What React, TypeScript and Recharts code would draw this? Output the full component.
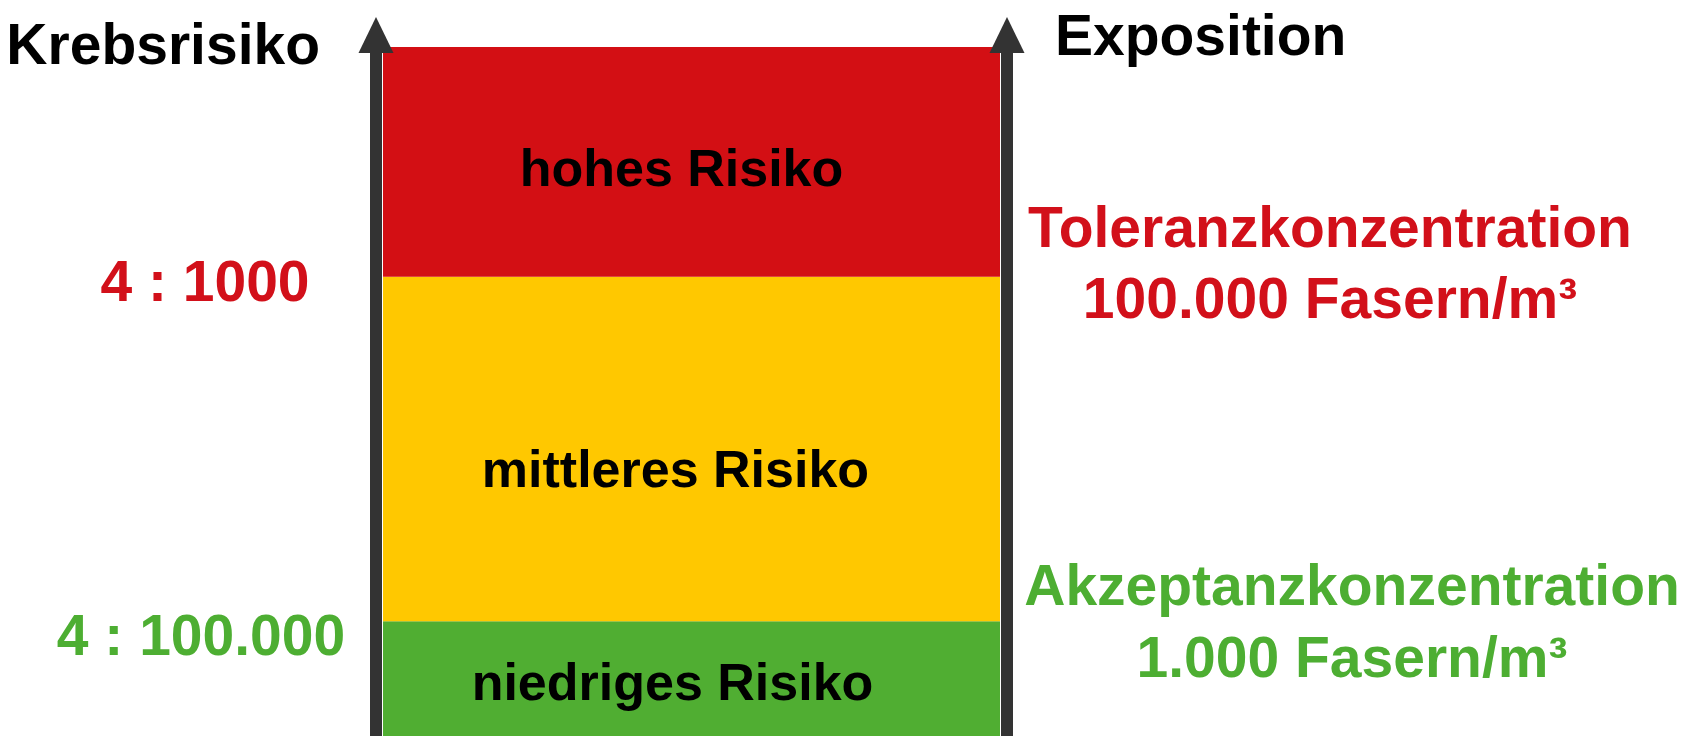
import { Bar, BarChart, LabelList, ReferenceLine, XAxis, YAxis } from "recharts";

// bands from the bottom up: low, medium, high risk
const bandKeys = ["niedrig", "mittel", "hoch"];
const bandNames = ["niedriges Risiko", "mittleres Risiko", "hohes Risiko"];
const bandSpans = [1, 3, 2];
const bandColors = ["#50AE32", "#FFC800", "#D30F14"];

// limits between the bands, on the shared scale
const limitTicks = [1, 4];
const riskLabels = ["4 : 100.000", "4 : 1000"];
const exposureLabels = [
  ["Akzeptanzkonzentration", "1.000 Fasern/m³"],
  ["Toleranzkonzentration", "100.000 Fasern/m³"],
];
const limitColors = ["#4DAE32", "#D2101A"];

const DARK = "#333333";
const FONT = "'Liberation Sans', Arial, sans-serif";

// text nudges, per band / per limit
const bandShift = [
  { dx: -19, dy: 3 },
  { dx: -16, dy: 20 },
  { dx: -10, dy: 6 },
];
const riskShift = [
  { dx: -167, dy: 14 },
  { dx: -163, dy: 4 },
];
const exposureShift = [
  { dx: 345, dy1: -36, dy2: 36 },
  { dx: 323, dy1: -50, dy2: 21 },
];

const axisHead = (title: string, side: "left" | "right") => (props: any) => {
  const vb = props.viewBox;
  const ax = side === "left" ? vb.x + vb.width : vb.x;
  const top = vb.y;
  return (
    <g>
      <polygon
        points={`${ax - 17.5},${top + 6} ${ax + 17.5},${top + 6} ${ax},${top - 30}`}
        fill={DARK}
      />
      <text
        x={side === "left" ? ax - 56 : ax + 48}
        y={side === "left" ? top + 17 : top + 8}
        textAnchor={side === "left" ? "end" : "start"}
        fontFamily={FONT}
        fontWeight="bold"
        fontSize={57}
        fill="#000"
      >
        {title}
      </text>
    </g>
  );
};

const RiskTick = (props: any) => {
  const i = limitTicks.indexOf(props.payload.value);
  if (i < 0) return null;
  return (
    <text
      x={props.x + riskShift[i].dx}
      y={props.y + riskShift[i].dy}
      textAnchor="middle"
      dominantBaseline="central"
      fontFamily={FONT}
      fontWeight="bold"
      fontSize={57}
      fill={limitColors[i]}
    >
      {riskLabels[i]}
    </text>
  );
};

// exposure limits sit to the right of the right-hand arrow
const exposureLabel = (i: number) => (props: any) => {
  const vb = props.viewBox;
  const s = exposureShift[i];
  const cx = vb.x + vb.width + s.dx;
  return (
    <g fontFamily={FONT} fontWeight="bold" fontSize={57} fill={limitColors[i]}>
      <text x={cx} y={vb.y + s.dy1} textAnchor="middle" dominantBaseline="central">
        {exposureLabels[i][0]}
      </text>
      <text x={cx} y={vb.y + s.dy2} textAnchor="middle" dominantBaseline="central">
        {exposureLabels[i][1]}
      </text>
    </g>
  );
};

const bandLabel = (i: number) => (props: any) => {
  const box = props.viewBox ?? props;
  return (
    <text
      x={box.x + box.width / 2 + bandShift[i].dx}
      y={box.y + box.height / 2 + bandShift[i].dy}
      textAnchor="middle"
      dominantBaseline="central"
      fontFamily={FONT}
      fontWeight="bold"
      fontSize={52}
      fill="#000"
    >
      {bandNames[i]}
    </text>
  );
};

export default function App() {
  const row: Record<string, any> = { name: "Risiko" };
  bandKeys.forEach((k, i) => (row[k] = bandSpans[i]));
  const data = [row];

  return (
    <div style={{ position: "absolute", left: 0, top: 0, width: 1700, height: 736, background: "#fff" }}>
      <BarChart
        width={1700}
        height={736}
        data={data}
        margin={{ top: 47, right: 0, bottom: 0, left: 0 }}
        barCategoryGap={7}
      >
        <XAxis dataKey="name" hide />
        <YAxis
          yAxisId="risk"
          orientation="left"
          type="number"
          domain={[0, 6]}
          ticks={limitTicks}
          interval={0}
          width={376}
          axisLine={{ stroke: DARK, strokeWidth: 12 }}
          tickLine={false}
          tick={<RiskTick />}
          label={{ content: axisHead("Krebsrisiko", "left") }}
        />
        <YAxis
          yAxisId="exposure"
          orientation="right"
          type="number"
          domain={[0, 6]}
          width={693}
          axisLine={{ stroke: DARK, strokeWidth: 12 }}
          tickLine={false}
          tick={false}
          label={{ content: axisHead("Exposition", "right") }}
        />
        {bandKeys.map((k, i) => (
          <Bar
            key={k}
            yAxisId="risk"
            dataKey={k}
            stackId="band"
            fill={bandColors[i]}
            isAnimationActive={false}
          >
            <LabelList dataKey={k} content={bandLabel(i)} />
          </Bar>
        ))}
        {limitTicks.map((v, i) => (
          <ReferenceLine
            key={v}
            yAxisId="risk"
            y={v}
            stroke="none"
            label={{ content: exposureLabel(i) }}
          />
        ))}
      </BarChart>
    </div>
  );
}
